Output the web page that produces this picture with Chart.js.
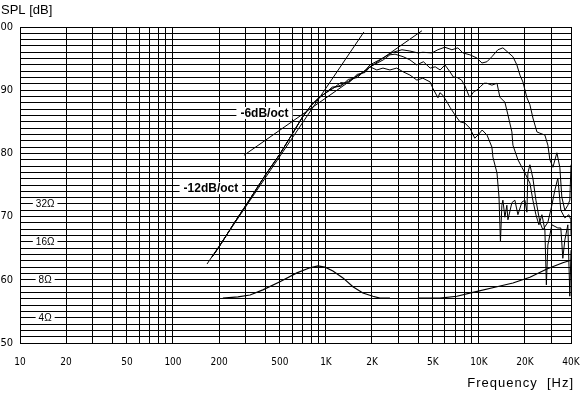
<!DOCTYPE html>
<html><head><meta charset="utf-8">
<style>html,body{margin:0;padding:0;background:#fff;} canvas{display:block;}</style>
<script src="https://cdn.jsdelivr.net/npm/chart.js@4.4.1/dist/chart.umd.min.js"></script>
</head><body>
<canvas id="c" width="585" height="395"></canvas>
<script>
// ---- axes / ticks ----
const xGridValues = [10,20,30,40,50,60,70,80,90,100,200,300,400,500,600,700,800,900,1000,2000,3000,4000,5000,6000,7000,8000,9000,10000,20000,30000,40000];
const xLabelValues = [10,20,50,100,200,500,1000,2000,5000,10000,20000,40000];
const xLabelTexts = ['10','20','50','100','200','500','1K','2K','5K','10K','20K','40K'];
const yLabelValues = [50,60,70,80,90,100];

// ---- SPL curves (Hz, dB) ----
const freqA = [180,200,250,300,400,500,600,700,800,900,1000,1100,1250,1400,1600,1800,1941,2360,2743,3140,3540,3990,4300,4930,5390,5990,6660,7290,7860,8730,9700,10470,11280,12160,13310,14350,15480,16690,17710,18540,19400,20610,21550,22550,23950,25060,27000,28240,29110,30460,32340,33810,34840,36460,38150,39300,40000];
const splA = [63.6,65.2,68.9,71.8,76.5,79.9,83.0,85.7,87.6,88.8,89.6,90.5,90.6,91.7,92.0,93.1,94.0,95.1,96.0,96.4,96.2,95.9,96.0,95.9,96.4,96.8,96.4,96.7,95.9,95.6,95.1,94.3,94.5,95.3,96.4,96.7,96.0,95.3,94.0,92.4,91.3,88.8,87.7,85.6,83.4,83.2,82.9,81.3,79.0,77.8,80.1,77.8,73.1,71.0,71.8,72.6,78.2];

const freqB = [180,200,250,300,400,500,600,700,800,900,1000,1100,1250,1400,1600,1800,1941,2370,2620,2830,3200,3540,3920,4340,4800,5180,5580,6000,6470,6800,7220,7700,8100,8580,8730,9280,9700,10260,10800,11280,12160,13130,13710,14790,15480,16430,16690,17990,19100,19990,21550,22530,23590,24680,25820,27000,27610,28240,29990,32810,34320,35370,36460,38150,39300,40000];
const splB = [63.6,65.2,68.9,71.8,76.5,79.9,83.0,85.7,87.6,88.8,89.6,90.2,91.2,91.1,92.5,92.8,93.7,94.8,95.6,95.7,95.3,94.8,94.0,94.5,93.5,93.7,93.2,94.0,92.9,92.1,92.0,91.6,90.7,89.2,88.9,89.8,90.0,90.6,91.1,91.1,90.8,91.1,88.9,88.1,86.1,83.4,81.3,79.0,77.8,76.9,75.3,72.6,70.3,68.7,70.3,67.9,59.2,65.5,68.7,68.2,68.2,63.4,66.3,68.7,57.4,64.7];

const freqC = [180,200,250,300,400,500,600,700,800,900,1000,1100,1250,1400,1600,1800,1941,2150,2360,2620,2900,3200,3540,3930,4300,4800,5000,5400,5560,5810,6200,6470,6970,7520,8100,8730,9400,9850,10500,11300,12160,12350,13130,13530,13830,14130,14350,14790,15230,15480,16430,17180,17990,19100,19990,20600,20900,21550,22530,23590,25060,26200,28240,29990,31380,32810,34320,36460,38720,39900,40000];
const splC = [63.6,65.2,68.9,71.8,76.5,79.9,83.0,85.7,87.6,88.8,89.6,90.3,90.8,91.4,92.3,93.0,93.7,93.2,93.5,93.2,93.5,92.9,92.4,91.6,91.9,91.3,90.3,88.8,89.6,89.2,88.1,87.3,86.1,85.0,84.8,84.0,82.4,82.9,83.7,82.9,81.0,79.4,76.9,73.1,66.0,71.8,72.6,69.9,71.8,69.5,72.2,72.6,70.3,72.3,72.6,70.7,76.9,78.2,76.1,72.6,69.1,67.9,69.1,71.8,74.2,76.1,71.0,69.8,70.3,69.5,67.1];

// ---- impedance curve, plotted on the dB axis (8 ohm = 60) ----
const freqZ = [212,266,319,387,500,646,785,887,985,1111,1292,1501,1744,2028,2253,2620,3300,3990,5560,7180,9140,13120,16690,21550,27800,35370,40000];
const impZ = [57.1,57.3,57.6,58.4,59.7,61.1,61.9,62.2,62.0,61.4,60.3,58.9,57.9,57.4,57.1,57.1,null,57.1,57.1,57.4,58.0,58.9,59.5,60.4,61.7,62.7,63.1];

// ---- slope asymptotes ----
const asym12Freq = [167, 1770];
const asym12Spl = [62.5, 99.2];
const asym6Freq = [291, 4240];
const asym6Spl = [79.7, 99.4];

// ---- annotation labels ----
const zLabelTexts = ['32\u03A9','16\u03A9','8\u03A9','4\u03A9'];
const zLabelLevels = [72, 66, 60, 54];
const zLabelFreq = 14.6;
const slopeLabelTexts = ['-6dB/oct', '-12dB/oct'];
const slopeLabelFreq = [396, 177];
const slopeLabelLevel = [86.4, 74.5];

const FONT = '"Liberation Sans Narrow","DejaVu Sans Condensed","Liberation Sans",Arial,sans-serif';
const FONT2 = '"Liberation Sans",Arial,sans-serif';

const pts = (fs, vs) => fs.map((f, i) => ({x: f, y: vs[i]}));
const ds = (data, w) => ({data, borderColor: '#000', borderWidth: w, pointRadius: 0, pointHoverRadius: 0, fill: false, tension: 0, spanGaps: false});

const annot = {
  id: 'annot',
  beforeDatasetsDraw(chart) {
    const ctx = chart.ctx, xs = chart.scales.x, ys = chart.scales.y;
    ctx.save();
    ctx.textAlign = 'center';
    ctx.textBaseline = 'middle';
    ctx.font = '10px ' + FONT2;
    zLabelTexts.forEach((t, i) => {
      const px = xs.getPixelForValue(zLabelFreq), py = ys.getPixelForValue(zLabelLevels[i]);
      const w = ctx.measureText(t).width + 6;
      ctx.fillStyle = '#fff'; ctx.fillRect(px - w / 2, py - 4, w, 8);
      ctx.fillStyle = '#000'; ctx.fillText(t, px, py + 0.5);
    });
    ctx.font = 'bold 12px ' + FONT2;
    slopeLabelTexts.forEach((t, i) => {
      const px = xs.getPixelForValue(slopeLabelFreq[i]), py = ys.getPixelForValue(slopeLabelLevel[i]);
      const w = ctx.measureText(t).width + 8;
      ctx.fillStyle = '#fff'; ctx.fillRect(px - w / 2, py - 6, w, 12);
      ctx.fillStyle = '#000'; ctx.fillText(t, px, py + 0.5);
    });
    ctx.restore();
  },
  afterDraw(chart) {
    const ctx = chart.ctx;
    ctx.save();
    ctx.fillStyle = '#000';
    ctx.textBaseline = 'middle';
    ctx.font = '13px ' + FONT2;
    ctx.textAlign = 'left';
    ctx.fillText('SPL [dB]', 1, 10);
    ctx.textAlign = 'right';
    try { ctx.letterSpacing = '1px'; } catch (e) {}
    ctx.fillText('Frequency  [Hz]', 574, 383);
    ctx.restore();
  }
};

new Chart(document.getElementById('c'), {
  type: 'line',
  data: {
    datasets: [
      ds(pts(freqA, splA), 1),
      ds(pts(freqB, splB), 1),
      ds(pts(freqC, splC), 1),
      ds(pts(freqZ, impZ), 1.2),
      ds(pts(asym12Freq, asym12Spl), 1),
      ds(pts(asym6Freq, asym6Spl), 1)
    ]
  },
  options: {
    responsive: false,
    animation: false,
    devicePixelRatio: 1,
    layout: {padding: {top: 27, right: 14, left: 0, bottom: 0}},
    plugins: {legend: {display: false}, tooltip: {enabled: false}},
    events: [],
    scales: {
      x: {
        type: 'logarithmic',
        min: 10, max: 40000,
        afterBuildTicks: (axis) => { axis.ticks = xGridValues.map(v => ({value: v})); },
        afterFit: (axis) => { axis.height = 52; axis.paddingLeft = 0; axis.paddingRight = 0; },
        grid: {color: '#000', lineWidth: 1, drawTicks: false},
        border: {color: '#000', width: 1},
        ticks: {
          autoSkip: false, maxRotation: 0, minRotation: 0, padding: 13,
          color: '#000', font: {family: FONT, size: 10},
          callback: (v) => { const i = xLabelValues.indexOf(v); return i >= 0 ? xLabelTexts[i] : ''; }
        }
      },
      y: {
        type: 'linear',
        min: 50, max: 100,
        afterFit: (axis) => { axis.width = 20; axis.paddingTop = 0; axis.paddingBottom = 0; },
        grid: {color: '#000', lineWidth: 1, drawTicks: false},
        border: {color: '#000', width: 1},
        ticks: {
          stepSize: 1, autoSkip: false, padding: 7,
          color: '#000', font: {family: FONT, size: 11},
          callback: (v) => yLabelValues.includes(v) ? String(v) : ''
        }
      }
    }
  },
  plugins: [annot]
});
</script>
</body></html>
